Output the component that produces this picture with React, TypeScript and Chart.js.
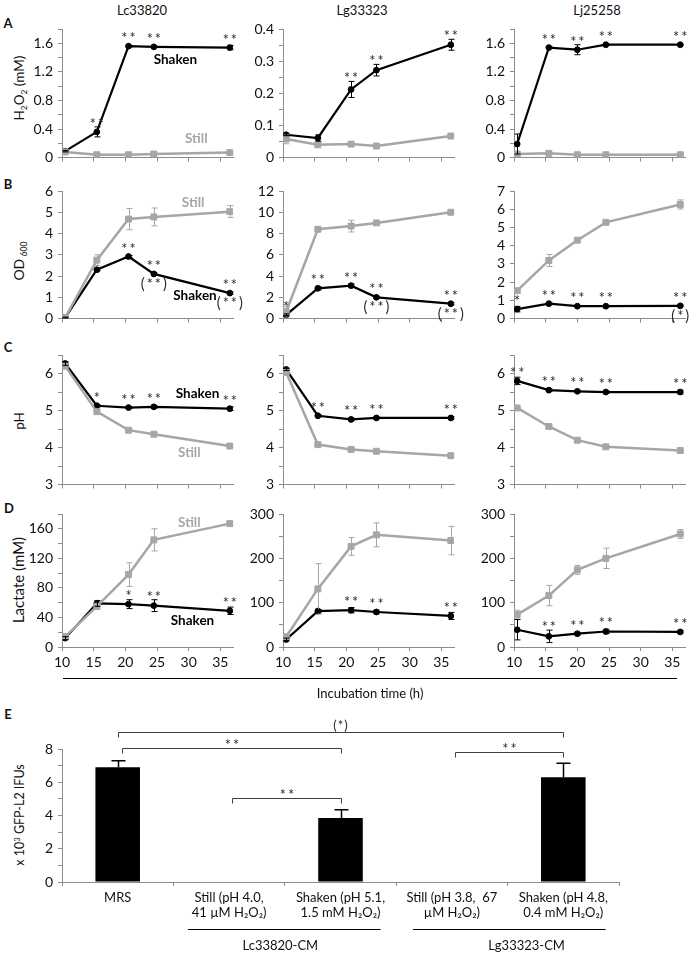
import React, { useEffect, useRef } from 'react';
import { Chart, registerables } from 'chart.js';

Chart.register(...registerables);

const FONT = 'Lato, "Open Sans", "DejaVu Sans", sans-serif';
Chart.defaults.font.family = FONT;

const BLACK = '#000000';
const GRAY = '#A6A6A6';
const AXIS = '#8C8C8C';
const STAR = '#2a2a2a';

// ---------- shared ----------
const COLUMN_TITLES = ['Lc33820', 'Lg33323', 'Lj25258'];
const X_TICKS = [10, 15, 20, 25, 30, 35];
const TIME_LC = [10.5, 15.5, 20.5, 24.5, 36.5];
const TIME_LG = [10.5, 15.5, 20.75, 24.75, 36.5];
const TIME_LJ = [10.5, 15.5, 20, 24.5, 36.25];

// ---------- A : H2O2 (mM) ----------
const A_LC_STILL = [0.08, 0.04, 0.04, 0.05, 0.07];
const A_LC_STILL_ERR = [0.01, 0.01, 0.01, 0.01, 0.01];
const A_LC_SHAKEN = [0.09, 0.36, 1.56, 1.55, 1.54];
const A_LC_SHAKEN_ERR = [0.01, 0.07, 0.01, 0.01, 0.03];
const A_LC_SIG = ['', '**', '**', '**', '**'];

const A_LG_STILL = [0.058, 0.04, 0.042, 0.036, 0.067];
const A_LG_STILL_ERR = [0.015, 0.003, 0.003, 0.003, 0.003];
const A_LG_SHAKEN = [0.071, 0.061, 0.212, 0.272, 0.351];
const A_LG_SHAKEN_ERR = [0.003, 0.01, 0.025, 0.018, 0.017];
const A_LG_SIG = ['', '', '**', '**', '**'];

const A_LJ_STILL = [0.05, 0.06, 0.04, 0.04, 0.04];
const A_LJ_STILL_ERR = [0.03, 0.01, 0.01, 0.01, 0.01];
const A_LJ_SHAKEN = [0.19, 1.54, 1.51, 1.58, 1.58];
const A_LJ_SHAKEN_ERR = [0.14, 0.01, 0.07, 0.01, 0.01];
const A_LJ_SIG = ['', '**', '**', '**', '**'];

// ---------- B : OD600 ----------
const B_LC_STILL = [0.05, 2.75, 4.68, 4.78, 5.03];
const B_LC_STILL_ERR = [0.02, 0.25, 0.5, 0.42, 0.28];
const B_LC_SHAKEN = [0.05, 2.3, 2.92, 2.1, 1.2];
const B_LC_SHAKEN_ERR = [0.02, 0.05, 0.05, 0.05, 0.05];
const B_LC_SIG = ['', '', '**', '**', '**'];
const B_LC_SIG_BELOW = ['', '', '', '(**)', '(**)'];

const B_LG_STILL = [0.65, 8.4, 8.7, 9.0, 10.0];
const B_LG_STILL_ERR = [0.5, 0.15, 0.55, 0.15, 0.15];
const B_LG_SHAKEN = [0.35, 2.85, 3.1, 2.0, 1.4];
const B_LG_SHAKEN_ERR = [0.1, 0.15, 0.15, 0.1, 0.1];
const B_LG_SIG = ['*', '**', '**', '**', '**'];
const B_LG_SIG_BELOW = ['', '', '', '(**)', '(**)'];

const B_LJ_STILL = [1.53, 3.19, 4.3, 5.28, 6.26];
const B_LJ_STILL_ERR = [0.1, 0.33, 0.08, 0.08, 0.25];
const B_LJ_SHAKEN = [0.52, 0.82, 0.68, 0.68, 0.7];
const B_LJ_SHAKEN_ERR = [0.15, 0.05, 0.04, 0.04, 0.04];
const B_LJ_SIG = ['*', '**', '**', '**', '**'];
const B_LJ_SIG_BELOW = ['', '', '', '', '(*)'];

// ---------- C : pH ----------
const C_LC_STILL = [6.2, 4.97, 4.47, 4.36, 4.04];
const C_LC_STILL_ERR = [0.05, 0.05, 0.04, 0.04, 0.04];
const C_LC_SHAKEN = [6.27, 5.13, 5.08, 5.1, 5.05];
const C_LC_SHAKEN_ERR = [0.05, 0.03, 0.03, 0.03, 0.05];
const C_LC_SIG = ['', '*', '**', '**', '**'];

const C_LG_STILL = [6.03, 4.08, 3.95, 3.9, 3.78];
const C_LG_STILL_ERR = [0.05, 0.03, 0.03, 0.03, 0.04];
const C_LG_SHAKEN = [6.11, 4.86, 4.76, 4.8, 4.8];
const C_LG_SHAKEN_ERR = [0.03, 0.03, 0.03, 0.03, 0.03];
const C_LG_SIG = ['', '**', '**', '**', '**'];

const C_LJ_STILL = [5.07, 4.57, 4.2, 4.02, 3.92];
const C_LJ_STILL_ERR = [0.03, 0.03, 0.03, 0.03, 0.03];
const C_LJ_SHAKEN = [5.8, 5.55, 5.52, 5.5, 5.5];
const C_LJ_SHAKEN_ERR = [0.1, 0.03, 0.03, 0.03, 0.05];
const C_LJ_SIG = ['**', '**', '**', '**', '**'];

// ---------- D : Lactate (mM) ----------
const D_LC_STILL = [14, 55, 98, 145, 167];
const D_LC_STILL_ERR = [3, 4, 16, 15, 2];
const D_LC_SHAKEN = [12, 59, 58, 56, 49];
const D_LC_SHAKEN_ERR = [2, 4, 6, 8, 5];
const D_LC_SIG = ['', '', '*', '**', '**'];

const D_LG_STILL = [23, 131, 227, 253, 240];
const D_LG_STILL_ERR = [5, 57, 20, 27, 32];
const D_LG_SHAKEN = [17, 81, 83, 79, 70];
const D_LG_SHAKEN_ERR = [3, 4, 6, 4, 8];
const D_LG_SIG = ['', '', '**', '**', '**'];

const D_LJ_STILL = [73, 116, 174, 200, 255];
const D_LJ_STILL_ERR = [10, 23, 10, 23, 10];
const D_LJ_SHAKEN = [39, 24, 30, 35, 34];
const D_LJ_SHAKEN_ERR = [23, 14, 3, 5, 3];
const D_LJ_SIG = ['', '**', '**', '**', '**'];

// ---------- E : bars ----------
const E_CATEGORIES = [
  ['MRS'],
  ['Still (pH 4.0,', '41 µM H₂O₂)'],
  ['Shaken (pH 5.1,', '1.5 mM H₂O₂)'],
  ['Still (pH 3.8,  67', 'µM H₂O₂)'],
  ['Shaken (pH 4.8,', '0.4 mM H₂O₂)'],
];
const E_VALUES = [6.9, 0, 3.85, 0, 6.3];
const E_ERRORS = [0.4, 0, 0.5, 0, 0.85];
const E_GROUP_LABELS = ['Lc33820-CM', 'Lg33323-CM'];
const E_BRACKET_LABELS = ['(*)', '**', '**', '**'];

// ---------- layout ----------
const COL_LEFT = [62, 283, 514];
const PLOT_W = 171;
const ROWS = [
  { top: 29, bottom: 161 },
  { top: 191, bottom: 322 },
  { top: 355, bottom: 488 },
  { top: 514, bottom: 647 },
];
const Y_AXIS_W = 50;
const PAD_TOP = 14;
const PAD_RIGHT = 18;

type Lbl = { x: number; y: number; text: string; color: string };
type YSpec = { min: number; max: number; step: number; major: number };
type Panel = {
  row: number;
  col: number;
  time: number[];
  still: number[];
  stillErr: number[];
  shaken: number[];
  shakenErr: number[];
  above: string[];
  below?: string[];
  y: YSpec;
  labels?: Lbl[];
};

const Y_A_BIG: YSpec = { min: 0, max: 1.8, step: 0.2, major: 0.4 };
const Y_A_SMALL: YSpec = { min: 0, max: 0.4, step: 0.05, major: 0.1 };
const Y_B_LC: YSpec = { min: 0, max: 6, step: 1, major: 1 };
const Y_B_LG: YSpec = { min: 0, max: 12, step: 2, major: 2 };
const Y_B_LJ: YSpec = { min: 0, max: 7, step: 1, major: 1 };
const Y_C: YSpec = { min: 3, max: 6.5, step: 0.5, major: 1 };
const Y_D_LC: YSpec = { min: 0, max: 180, step: 20, major: 40 };
const Y_D_BIG: YSpec = { min: 0, max: 300, step: 50, major: 100 };

const PANELS: Panel[] = [
  { row: 0, col: 0, time: TIME_LC, still: A_LC_STILL, stillErr: A_LC_STILL_ERR, shaken: A_LC_SHAKEN, shakenErr: A_LC_SHAKEN_ERR, above: A_LC_SIG, y: Y_A_BIG,
    labels: [{ x: 27.9, y: 1.37, text: 'Shaken', color: BLACK }, { x: 31.2, y: 0.26, text: 'Still', color: GRAY }] },
  { row: 0, col: 1, time: TIME_LG, still: A_LG_STILL, stillErr: A_LG_STILL_ERR, shaken: A_LG_SHAKEN, shakenErr: A_LG_SHAKEN_ERR, above: A_LG_SIG, y: Y_A_SMALL },
  { row: 0, col: 2, time: TIME_LJ, still: A_LJ_STILL, stillErr: A_LJ_STILL_ERR, shaken: A_LJ_SHAKEN, shakenErr: A_LJ_SHAKEN_ERR, above: A_LJ_SIG, y: Y_A_BIG },

  { row: 1, col: 0, time: TIME_LC, still: B_LC_STILL, stillErr: B_LC_STILL_ERR, shaken: B_LC_SHAKEN, shakenErr: B_LC_SHAKEN_ERR, above: B_LC_SIG, below: B_LC_SIG_BELOW, y: Y_B_LC,
    labels: [{ x: 30.7, y: 5.46, text: 'Still', color: GRAY }, { x: 31.0, y: 1.1, text: 'Shaken', color: BLACK }] },
  { row: 1, col: 1, time: TIME_LG, still: B_LG_STILL, stillErr: B_LG_STILL_ERR, shaken: B_LG_SHAKEN, shakenErr: B_LG_SHAKEN_ERR, above: B_LG_SIG, below: B_LG_SIG_BELOW, y: Y_B_LG },
  { row: 1, col: 2, time: TIME_LJ, still: B_LJ_STILL, stillErr: B_LJ_STILL_ERR, shaken: B_LJ_SHAKEN, shakenErr: B_LJ_SHAKEN_ERR, above: B_LJ_SIG, below: B_LJ_SIG_BELOW, y: Y_B_LJ },

  { row: 2, col: 0, time: TIME_LC, still: C_LC_STILL, stillErr: C_LC_STILL_ERR, shaken: C_LC_SHAKEN, shakenErr: C_LC_SHAKEN_ERR, above: C_LC_SIG, y: Y_C,
    labels: [{ x: 31.4, y: 5.45, text: 'Shaken', color: BLACK }, { x: 30.1, y: 3.87, text: 'Still', color: GRAY }] },
  { row: 2, col: 1, time: TIME_LG, still: C_LG_STILL, stillErr: C_LG_STILL_ERR, shaken: C_LG_SHAKEN, shakenErr: C_LG_SHAKEN_ERR, above: C_LG_SIG, y: Y_C },
  { row: 2, col: 2, time: TIME_LJ, still: C_LJ_STILL, stillErr: C_LJ_STILL_ERR, shaken: C_LJ_SHAKEN, shakenErr: C_LJ_SHAKEN_ERR, above: C_LJ_SIG, y: Y_C },

  { row: 3, col: 0, time: TIME_LC, still: D_LC_STILL, stillErr: D_LC_STILL_ERR, shaken: D_LC_SHAKEN, shakenErr: D_LC_SHAKEN_ERR, above: D_LC_SIG, y: Y_D_LC,
    labels: [{ x: 30.1, y: 168, text: 'Still', color: GRAY }, { x: 30.6, y: 35, text: 'Shaken', color: BLACK }] },
  { row: 3, col: 1, time: TIME_LG, still: D_LG_STILL, stillErr: D_LG_STILL_ERR, shaken: D_LG_SHAKEN, shakenErr: D_LG_SHAKEN_ERR, above: D_LG_SIG, y: Y_D_BIG },
  { row: 3, col: 2, time: TIME_LJ, still: D_LJ_STILL, stillErr: D_LJ_STILL_ERR, shaken: D_LJ_SHAKEN, shakenErr: D_LJ_SHAKEN_ERR, above: D_LJ_SIG, y: Y_D_BIG },
];

function buildTicks(y: YSpec) {
  const out: { value: number }[] = [];
  for (let v = y.min; v <= y.max + 1e-9; v += y.step) out.push({ value: Math.round(v * 1000) / 1000 });
  return out;
}

function isMajor(v: number, major: number) {
  const r = v / major;
  return Math.abs(r - Math.round(r)) < 1e-6;
}

function drawStars(ctx: CanvasRenderingContext2D, text: string, x: number, baseline: number) {
  ctx.save();
  ctx.font = `14.5px ${FONT}`;
  ctx.fillStyle = STAR;
  ctx.textAlign = 'center';
  ctx.textBaseline = 'alphabetic';
  try { (ctx as any).letterSpacing = '2px'; } catch (e) { /* ignore */ }
  ctx.fillText(text, x + 1, baseline);
  ctx.restore();
}

function makeLineOverlay(p: Panel) {
  return {
    id: 'lineOverlay',
    afterDatasetsDraw(chart: any) {
      const ctx: CanvasRenderingContext2D = chart.ctx;
      const xs = chart.scales.x;
      const ys = chart.scales.y;
      ctx.save();
      // error bars
      chart.data.datasets.forEach((ds: any) => {
        const errs: number[] = ds.errors;
        ctx.strokeStyle = ds.errorColor;
        ctx.lineWidth = 1;
        ds.data.forEach((pt: any, i: number) => {
          const e = errs[i];
          if (!e) return;
          const x = Math.round(xs.getPixelForValue(pt.x)) + 0.5;
          const yt = ys.getPixelForValue(pt.y + e);
          const yb = ys.getPixelForValue(pt.y - e);
          ctx.beginPath();
          ctx.moveTo(x, yt); ctx.lineTo(x, yb);
          ctx.moveTo(x - 3, yt); ctx.lineTo(x + 3, yt);
          ctx.moveTo(x - 3, yb); ctx.lineTo(x + 3, yb);
          ctx.stroke();
        });
      });
      // significance
      p.shaken.forEach((v, i) => {
        const x = xs.getPixelForValue(p.time[i]);
        const py = ys.getPixelForValue(v);
        const et = ys.getPixelForValue(v + p.shakenErr[i]);
        if (p.above[i]) {
          const c = Math.min(py - 11, et - 6);
          drawStars(ctx, p.above[i], x, c + 8);
        }
        if (p.below && p.below[i]) {
          drawStars(ctx, p.below[i], x, py + 15);
        }
      });
      // series labels
      (p.labels || []).forEach((l) => {
        ctx.font = `bold 13.5px ${FONT}`;
        ctx.fillStyle = l.color;
        ctx.textAlign = 'center';
        ctx.textBaseline = 'middle';
        ctx.fillText(l.text, xs.getPixelForValue(l.x), ys.getPixelForValue(l.y));
      });
      ctx.restore();
    },
  };
}

function LinePanel({ p }: { p: Panel }) {
  const ref = useRef<HTMLCanvasElement>(null);
  const row = ROWS[p.row];
  const isBottom = p.row === 3;
  const bottomMargin = isBottom ? 30 : 10;
  const w = Y_AXIS_W + PLOT_W + PAD_RIGHT;
  const h = PAD_TOP + (row.bottom - row.top) + bottomMargin;
  const left = COL_LEFT[p.col] - Y_AXIS_W;
  const top = row.top - PAD_TOP;

  useEffect(() => {
    const ticks = buildTicks(p.y);
    const chart = new Chart(ref.current as HTMLCanvasElement, {
      type: 'line',
      data: {
        datasets: [
          {
            label: 'Still',
            data: p.time.map((t, i) => ({ x: t, y: p.still[i] })),
            borderColor: GRAY,
            backgroundColor: GRAY,
            pointBackgroundColor: GRAY,
            pointBorderColor: GRAY,
            pointStyle: 'rect',
            pointRadius: 4.2,
            pointBorderWidth: 1,
            borderWidth: 2.5,
            tension: 0,
            errors: p.stillErr,
            errorColor: GRAY,
          } as any,
          {
            label: 'Shaken',
            data: p.time.map((t, i) => ({ x: t, y: p.shaken[i] })),
            borderColor: BLACK,
            backgroundColor: BLACK,
            pointBackgroundColor: BLACK,
            pointBorderColor: BLACK,
            pointStyle: 'circle',
            pointRadius: 2.9,
            pointBorderWidth: 1,
            borderWidth: 2.2,
            tension: 0,
            errors: p.shakenErr,
            errorColor: BLACK,
          } as any,
        ],
      },
      options: {
        animation: false,
        responsive: false,
        devicePixelRatio: 1,
        layout: { padding: { top: PAD_TOP, right: PAD_RIGHT, left: 0, bottom: 0 } },
        plugins: { legend: { display: false }, tooltip: { enabled: false } },
        scales: {
          x: {
            type: 'linear',
            min: 10,
            max: 37,
            afterBuildTicks: (s: any) => { s.ticks = X_TICKS.map((v) => ({ value: v })); },
            afterFit: (s: any) => { s.height = bottomMargin; },
            grid: { drawOnChartArea: false, drawTicks: true, tickLength: 4, color: AXIS },
            border: { display: true, color: AXIS, width: 1 },
            ticks: { display: isBottom, autoSkip: false, maxRotation: 0, padding: 3, color: '#111', font: { size: 14, family: FONT } },
          },
          y: {
            type: 'linear',
            min: p.y.min,
            max: p.y.max,
            afterBuildTicks: (s: any) => { s.ticks = ticks.map((t) => ({ value: t.value })); },
            afterFit: (s: any) => { s.width = Y_AXIS_W; },
            grid: { drawOnChartArea: false, drawTicks: true, tickLength: 4, color: AXIS },
            border: { display: true, color: AXIS, width: 1 },
            ticks: {
              autoSkip: false,
              padding: 5,
              color: '#111',
              font: { size: 14, family: FONT },
              callback: (v: any) => (isMajor(Number(v), p.y.major) ? String(Number(Number(v).toFixed(2))) : ''),
            },
          },
        },
      },
      plugins: [makeLineOverlay(p)],
    } as any);
    return () => chart.destroy();
  }, []);

  return (
    <canvas
      ref={ref}
      width={w}
      height={h}
      style={{ position: 'absolute', left, top, width: w, height: h }}
    />
  );
}

// ---------- E chart ----------
const E_LEFT = 62;
const E_RIGHT = 619;
const E_TOP = 749;
const E_BOTTOM = 882;
const E_CANVAS_TOP = 712;
const E_CANVAS_BOTTOM = 954;

function BarPanel() {
  const ref = useRef<HTMLCanvasElement>(null);
  const cLeft = E_LEFT - Y_AXIS_W;
  const padRight = 14;
  const w = Y_AXIS_W + (E_RIGHT - E_LEFT) + padRight;
  const h = E_CANVAS_BOTTOM - E_CANVAS_TOP;
  const padTop = E_TOP - E_CANVAS_TOP;
  const xH = E_CANVAS_BOTTOM - E_BOTTOM;

  useEffect(() => {
    const yTicks = buildTicks({ min: 0, max: 8, step: 1, major: 2 });
    const brackets = [
      { from: 0, to: 4, y: 9.03 },
      { from: 0.04, to: 2, y: 8.07 },
      { from: 1.03, to: 2, y: 5.06 },
      { from: 3.03, to: 4, y: 7.83 },
    ];
    const groups = [
      { from: 0.63, to: 2.36, at: 1.46 },
      { from: 2.65, to: 4.38, at: 3.67 },
    ];
    const overlay = {
      id: 'barOverlay',
      afterDatasetsDraw(chart: any) {
        const ctx: CanvasRenderingContext2D = chart.ctx;
        const xs = chart.scales.x;
        const ys = chart.scales.y;
        const n = E_CATEGORIES.length;
        const catPx = (idx: number) => xs.left + (idx + 0.5) * (xs.width / n);
        ctx.save();
        // error bars (plus only)
        ctx.strokeStyle = BLACK;
        ctx.lineWidth = 1.5;
        E_VALUES.forEach((v, i) => {
          const e = E_ERRORS[i];
          if (!e) return;
          const x = Math.round(xs.getPixelForValue(i)) + 0.5;
          const y0 = ys.getPixelForValue(v);
          const y1 = ys.getPixelForValue(v + e);
          ctx.beginPath();
          ctx.moveTo(x, y0); ctx.lineTo(x, y1);
          ctx.moveTo(x - 7, y1); ctx.lineTo(x + 7, y1);
          ctx.stroke();
        });
        // brackets
        ctx.strokeStyle = '#404040';
        ctx.lineWidth = 1;
        brackets.forEach((b, k) => {
          const x0 = Math.round(catPx(b.from)) + 0.5;
          const x1 = Math.round(catPx(b.to)) + 0.5;
          const y = Math.round(ys.getPixelForValue(b.y)) + 0.5;
          ctx.beginPath();
          ctx.moveTo(x0, y + 5); ctx.lineTo(x0, y); ctx.lineTo(x1, y); ctx.lineTo(x1, y + 5);
          ctx.stroke();
          const lbl = E_BRACKET_LABELS[k];
          if (lbl.startsWith('(')) {
            ctx.save();
            ctx.font = `13px ${FONT}`;
            ctx.fillStyle = STAR;
            ctx.textAlign = 'center';
            ctx.textBaseline = 'alphabetic';
            try { (ctx as any).letterSpacing = '1px'; } catch (e) { /* ignore */ }
            ctx.fillText(lbl, (x0 + x1) / 2, y - 3);
            ctx.restore();
          } else {
            drawStars(ctx, lbl, (x0 + x1) / 2, y + 1);
          }
        });
        // group lines and labels
        const gy = Math.round(ys.bottom + 47) + 0.5;
        groups.forEach((g, k) => {
          ctx.strokeStyle = BLACK;
          ctx.lineWidth = 1;
          ctx.beginPath();
          ctx.moveTo(catPx(g.from), gy);
          ctx.lineTo(catPx(g.to), gy);
          ctx.stroke();
          ctx.font = `13px ${FONT}`;
          ctx.fillStyle = '#111';
          ctx.textAlign = 'center';
          ctx.textBaseline = 'middle';
          ctx.fillText(E_GROUP_LABELS[k], catPx(g.at), gy + 16);
        });
        ctx.restore();
      },
    };

    const chart = new Chart(ref.current as HTMLCanvasElement, {
      type: 'bar',
      data: {
        labels: E_CATEGORIES,
        datasets: [
          {
            data: E_VALUES,
            backgroundColor: BLACK,
            borderWidth: 0,
            barPercentage: 0.4,
            categoryPercentage: 1,
          },
        ],
      },
      options: {
        animation: false,
        responsive: false,
        devicePixelRatio: 1,
        layout: { padding: { top: padTop, right: padRight, left: 0, bottom: 0 } },
        plugins: { legend: { display: false }, tooltip: { enabled: false } },
        scales: {
          x: {
            type: 'category',
            afterFit: (s: any) => { s.height = xH; },
            grid: { offset: true, drawOnChartArea: false, drawTicks: true, tickLength: 4, color: AXIS },
            border: { display: true, color: AXIS, width: 1 },
            ticks: { autoSkip: false, maxRotation: 0, padding: 4, color: '#111', font: { size: 13, family: FONT, lineHeight: 1.17 } },
          },
          y: {
            type: 'linear',
            min: 0,
            max: 8,
            afterBuildTicks: (s: any) => { s.ticks = yTicks.map((t) => ({ value: t.value })); },
            afterFit: (s: any) => { s.width = Y_AXIS_W; },
            grid: { drawOnChartArea: false, drawTicks: true, tickLength: 4, color: AXIS },
            border: { display: true, color: AXIS, width: 1 },
            ticks: {
              autoSkip: false,
              padding: 5,
              color: '#111',
              font: { size: 14, family: FONT },
              callback: (v: any) => (isMajor(Number(v), 2) ? String(v) : ''),
            },
          },
        },
      },
      plugins: [overlay],
    } as any);
    return () => chart.destroy();
  }, []);

  return (
    <canvas
      ref={ref}
      width={w}
      height={h}
      style={{ position: 'absolute', left: cLeft, top: E_CANVAS_TOP, width: w, height: h }}
    />
  );
}

// ---------- text helper ----------
function Txt(props: { x: number; y: number; size: number; bold?: boolean; rot?: number; color?: string; children: any }) {
  const { x, y, size, bold, rot = 0, color = '#111', children } = props;
  return (
    <div
      style={{
        position: 'absolute',
        left: x,
        top: y,
        transform: `translate(-50%, -50%) rotate(${rot}deg)`,
        fontFamily: FONT,
        fontSize: size,
        fontWeight: bold ? 700 : 400,
        whiteSpace: 'nowrap',
        lineHeight: 1,
        color,
      }}
    >
      {children}
    </div>
  );
}

const subStyle: any = { fontSize: '0.62em', verticalAlign: '-0.3em', lineHeight: 0 };
const supStyle: any = { fontSize: '0.62em', verticalAlign: '0.55em', lineHeight: 0 };

export default function App() {
  return (
    <div style={{ position: 'absolute', left: 0, top: 0, width: 692, height: 954, background: '#fff', overflow: 'hidden' }}>
      <Txt x={142} y={10} size={13}>{COLUMN_TITLES[0]}</Txt>
      <Txt x={362} y={10} size={13}>{COLUMN_TITLES[1]}</Txt>
      <Txt x={597} y={10} size={13}>{COLUMN_TITLES[2]}</Txt>

      <Txt x={8} y={23} size={13} bold>A</Txt>
      <Txt x={8} y={184} size={13} bold>B</Txt>
      <Txt x={8} y={347} size={13} bold>C</Txt>
      <Txt x={9} y={508} size={13} bold>D</Txt>
      <Txt x={8} y={714} size={13} bold>E</Txt>

      <Txt x={20} y={88} size={13.5} rot={-90}>
        H<sub style={subStyle}>2</sub>O<sub style={subStyle}>2</sub> (mM)
      </Txt>
      <Txt x={19} y={261} size={14} rot={-90}>
        OD<sub style={subStyle}> 600</sub>
      </Txt>
      <Txt x={20} y={421} size={13.5} rot={-90}>pH</Txt>
      <Txt x={18} y={580} size={15} rot={-90}>Lactate (mM)</Txt>
      <Txt x={20} y={815} size={12.5} rot={-90}>
        x 10<sup style={supStyle}>3</sup> GFP-L2 IFUs
      </Txt>

      {PANELS.map((p, i) => (
        <LinePanel key={i} p={p} />
      ))}

      <div style={{ position: 'absolute', left: 63, top: 678, width: 614, height: 1, background: '#000' }} />
      <Txt x={370} y={693} size={13}>Incubation time (h)</Txt>

      <BarPanel />
    </div>
  );
}
